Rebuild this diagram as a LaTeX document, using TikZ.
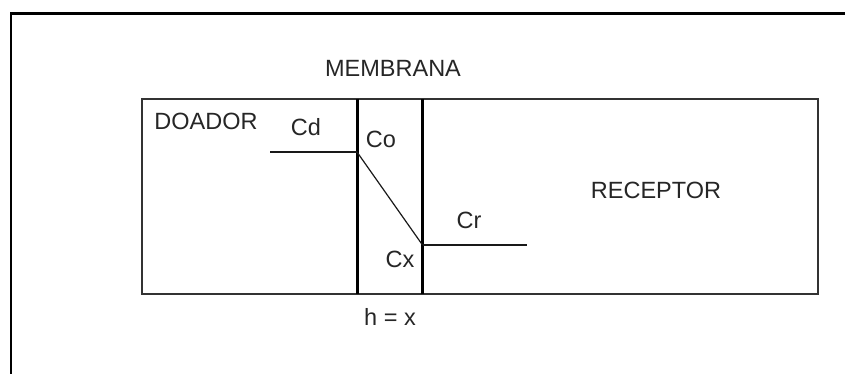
\documentclass[tikz,border=0pt]{standalone}
\usepackage{fontspec}
\setmainfont{Liberation Sans}
\begin{document}
\begin{tikzpicture}[x=1pt,y=-1pt,
  lbl/.style={inner sep=0pt,font=\fontsize{23.5}{27}\selectfont,text=black!85},
  frameline/.style={line width=2.2pt,black},
  boxline/.style={line width=2pt,black!80},
  wall/.style={line width=3pt,black},
  thin/.style={line width=1.2pt,black!90}]
\useasboundingbox (0,0) rectangle (845,374);
% outer frame (top and left)
\coordinate (fTL) at (11,13.5);
\coordinate (fTR) at (845,13.5);
\coordinate (fBL) at (11,374);
\draw[frameline] (fTR) -- (fTL) -- (fBL);
% main box
\coordinate (bTL) at (142,99);
\coordinate (bBR) at (818,294);
\draw[boxline] (bTL) rectangle (bBR);
% membrane walls
\coordinate (m1t) at (357,99);
\coordinate (m1b) at (357,294);
\coordinate (m2t) at (422.5,99);
\coordinate (m2b) at (422.5,294);
\draw[wall] (m1t) -- (m1b);
\draw[wall] (m2t) -- (m2b);
% concentration profile
\coordinate (cdS) at (270,152);
\coordinate (co) at (357,152);
\coordinate (cx) at (422.5,245);
\coordinate (crE) at (527,245);
\draw[thin] (cdS) -- (co);
\draw[thin] (co) -- (cx);
\draw[thin] (cx) -- (crE);
% labels
\node[lbl] (membrana) at (393,68) {MEMBRANA};
\node[lbl] (doador) at (206,121) {DOADOR};
\node[lbl] (cd) at (306,127) {Cd};
\node[lbl] (colbl) at (381,139) {Co};
\node[lbl] (receptor) at (656,190) {RECEPTOR};
\node[lbl] (crlbl) at (469,220) {Cr};
\node[lbl] (cxlbl) at (400,259) {Cx};
\node[lbl] (hx) at (390,317) {h = x};
\end{tikzpicture}
\end{document}
